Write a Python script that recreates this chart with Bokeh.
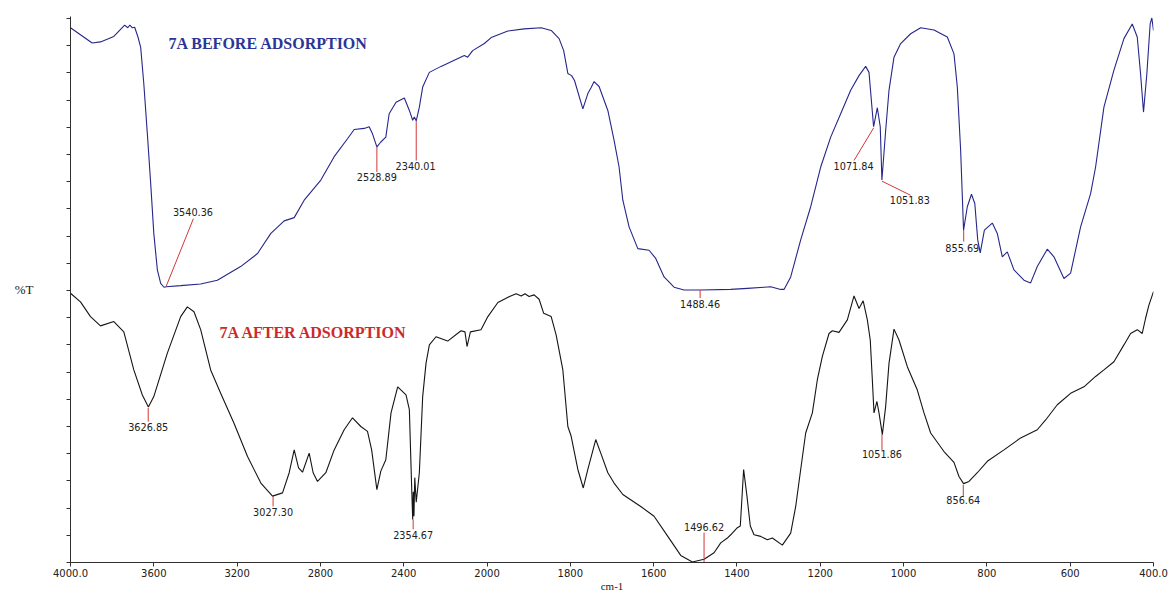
import numpy as np
from bokeh.plotting import figure
from bokeh.models import FixedTicker, CustomJSTickFormatter, Range1d
from bokeh.embed import file_html
from bokeh.resources import INLINE
from bokeh.core.properties import value

# ---------------- data (wavenumber cm-1, %T in chart units) ----------------
before_wn = [4000, 3896, 3856, 3792, 3740, 3725, 3715, 3703, 3692, 3676,
             3663, 3648, 3631, 3615, 3600, 3583, 3567, 3551, 3540, 3471,
             3375, 3295, 3183, 3102, 3038, 2974, 2926, 2878, 2798, 2734,
             2670, 2638, 2590, 2566, 2550, 2529, 2510, 2486, 2470, 2437,
             2397, 2373, 2357, 2349, 2340, 2325, 2309, 2277, 2221, 2109,
             2093, 2069, 2013, 1990, 1950, 1911, 1870, 1846, 1827, 1816,
             1806, 1797, 1790, 1770, 1758, 1750, 1743, 1731, 1710, 1695,
             1683, 1674, 1659, 1638, 1611, 1595, 1575, 1551, 1527, 1487,
             1415, 1375, 1335, 1319, 1295, 1287, 1271, 1247, 1223, 1199,
             1175, 1151, 1127, 1107, 1091, 1083, 1072, 1063, 1056, 1052,
             1043, 1035, 1023, 1007, 983, 959, 927, 895, 879, 871,
             863, 856, 847, 837, 829, 822, 816, 806, 787, 775,
             763, 751, 735, 711, 695, 679, 655, 639, 615, 599,
             575, 551, 539, 519, 495, 471, 451, 439, 431, 424,
             416, 408, 404, 400]
before_t = [98.3, 95.5, 95.7, 96.7, 98.8, 98.3, 98.8, 98.3, 98.4, 96.6,
            94.7, 88.0, 78.8, 69.7, 60.5, 53.8, 51.3, 50.6, 50.7, 50.9,
            51.2, 51.9, 54.4, 56.8, 60.5, 62.8, 63.4, 66.6, 70.3, 74.6,
            77.9, 79.6, 79.8, 80.1, 78.8, 76.4, 77.3, 78.2, 82.5, 84.6,
            85.4, 83.1, 81.3, 81.9, 81.2, 83.7, 87.4, 90.1, 91.2, 93.2,
            92.9, 94.1, 95.4, 96.5, 97.7, 98.1, 98.3, 97.8, 96.3, 94.1,
            89.9, 89.5, 88.6, 83.4, 86.2, 87.3, 88.4, 87.5, 83.1, 77.6,
            72.7, 66.6, 61.7, 57.7, 57.4, 55.9, 52.5, 50.6, 50.1, 50.1,
            50.2, 50.4, 50.6, 50.7, 50.2, 50.2, 52.5, 59.3, 65.4, 72.7,
            78.2, 82.5, 86.8, 89.5, 91.2, 90.1, 80.1, 83.6, 80.1, 70.3,
            79.4, 86.8, 92.9, 95.4, 97.2, 98.3, 97.9, 96.6, 93.5, 87.4,
            75.8, 61.1, 65.4, 67.7, 66.0, 59.3, 56.9, 61.1, 62.4, 60.5,
            56.2, 57.1, 53.8, 51.9, 51.4, 54.4, 57.6, 56.2, 52.2, 53.2,
            61.7, 67.8, 72.7, 83.7, 90.5, 96.3, 99.0, 96.6, 89.8, 82.8,
            89.8, 99.0, 100.1, 97.8]

after_wn = [4000, 3952, 3904, 3856, 3792, 3744, 3696, 3655, 3626, 3600,
            3535, 3471, 3439, 3407, 3375, 3327, 3279, 3215, 3150, 3086,
            3030, 2982, 2950, 2926, 2905, 2886, 2854, 2835, 2814, 2774,
            2734, 2686, 2646, 2606, 2574, 2554, 2529, 2510, 2486, 2461,
            2429, 2389, 2373, 2362, 2357, 2354, 2351, 2347, 2340, 2325,
            2309, 2293, 2277, 2245, 2189, 2125, 2106, 2096, 2080, 2029,
            1998, 1974, 1946, 1930, 1918, 1909, 1899, 1887, 1875, 1864,
            1846, 1834, 1818, 1806, 1798, 1782, 1769, 1758, 1739, 1727,
            1710, 1695, 1674, 1631, 1599, 1566, 1535, 1507, 1479, 1455,
            1439, 1423, 1415, 1399, 1392, 1384, 1376, 1368, 1359, 1343,
            1327, 1315, 1291, 1271, 1259, 1247, 1235, 1219, 1207, 1195,
            1179, 1171, 1155, 1135, 1119, 1107, 1097, 1087, 1080, 1075,
            1071, 1064, 1059, 1051, 1043, 1035, 1023, 1011, 991, 967,
            951, 935, 903, 879, 867, 856, 843, 823, 799, 759,
            719, 679, 659, 631, 599, 567, 539, 519, 495, 471,
            455, 439, 427, 419, 411, 400]
after_t = [49.5, 47.9, 45.2, 43.5, 44.3, 42.4, 35.4, 30.8, 28.6, 30.5,
           38.5, 45.2, 47.0, 46.1, 42.8, 35.4, 31.1, 25.6, 19.5, 14.6,
           12.2, 12.8, 16.5, 20.7, 17.4, 16.6, 20.1, 16.5, 14.9, 16.5,
           20.7, 24.4, 26.6, 25.0, 24.1, 20.7, 13.4, 16.8, 18.9, 27.5,
           32.3, 30.8, 28.1, 14.0, 7.9, 13.0, 8.5, 15.6, 11.1, 16.5,
           30.5, 36.6, 40.0, 41.5, 40.7, 42.6, 42.4, 39.7, 42.4, 42.8,
           45.2, 47.8, 48.9, 49.4, 49.0, 49.4, 48.9, 49.2, 48.4, 45.8,
           45.2, 41.8, 35.4, 25.0, 23.2, 17.1, 13.7, 17.1, 22.6, 20.1,
           16.5, 14.6, 12.5, 10.3, 8.5, 4.8, 1.3, 0.1, 0.6, 1.8,
           3.6, 4.5, 5.1, 6.4, 6.7, 17.1, 12.2, 6.7, 5.1, 4.8,
           4.2, 4.5, 3.2, 5.4, 10.3, 17.1, 23.8, 27.5, 33.6, 37.9,
           42.1, 42.6, 42.3, 44.6, 49.0, 46.7, 48.1, 44.6, 40.9, 33.6,
           27.5, 29.6, 27.5, 23.5, 28.7, 36.6, 42.9, 40.9, 36.0, 31.7,
           27.5, 23.8, 20.4, 18.4, 15.8, 14.5, 14.9, 16.5, 18.6, 20.7,
           22.9, 24.4, 26.2, 29.0, 31.1, 32.3, 34.2, 35.4, 36.9, 40.0,
           42.1, 42.8, 42.1, 44.9, 47.3, 49.8]

# peak annotations: label, leader tip / end, text anchor
before_peaks = ["3540.36", "2528.89", "2340.01", "1488.46", "1071.84", "1051.83", "855.69"]
before_tip_wn = [3540.36, 2528.89, 2340.01, 1488.46, 1071.84, 1051.83, 855.69]
before_tip_t = [50.8, 76.4, 81.2, 50.1, 79.9, 70.1, 61.1]
before_end_wn = [3410, 2528.89, 2340.01, 1488.46, 1119, 983, 855.69]
before_end_t = [63.2, 71.8, 73.9, 48.6, 73.9, 67.5, 59.0]
before_txt_wn = [3412, 2528.89, 2343, 1488.46, 1120, 985, 859]
before_txt_t = [64.5, 70.9, 72.9, 47.5, 72.8, 66.6, 57.9]

after_peaks = ["3626.85", "3027.30", "2354.67", "1496.62", "1051.86", "856.64"]
after_tip_wn = [3626.85, 3027.30, 2354.67, 1479, 1051.86, 856.64]
after_tip_t = [28.4, 12.2, 7.9, 0.0, 23.5, 14.3]
after_end_t = [25.9, 10.3, 6.1, 5.5, 20.7, 12.2]
after_txt_t = [24.9, 9.3, 5.0, 6.6, 19.9, 11.4]

tick_wn = [4000, 3600, 3200, 2800, 2400, 2000, 1800, 1600, 1400, 1200, 1000, 800, 600, 400]
tick_labels = ["4000.0", "3600", "3200", "2800", "2400", "2000", "1800", "1600",
               "1400", "1200", "1000", "800", "600", "400.0"]

titles = ["7A BEFORE ADSORPTION", "7A AFTER ADSORPTION"]
title_wn = [3529, 3284]
title_t = [95.4, 42.2]


# the spectrometer axis is expanded 2x below 2000 cm-1
def xmap(w):
    w = np.asarray(w, dtype=float)
    return np.where(w >= 2000, (4000.0 - w) / 2.0, 1000.0 + (2000.0 - w))


p = figure(width=1168, height=594, x_range=Range1d(0, 2600), y_range=Range1d(0, 100.37),
           output_backend="svg", toolbar_location=None,
           min_border_left=70, min_border_right=15, min_border_top=16, min_border_bottom=31)
p.background_fill_color = "white"
p.border_fill_color = "white"
p.outline_line_color = None
p.xgrid.visible = False
p.ygrid.visible = False

# spectra
p.line(xmap(before_wn), before_t, line_color="#26268C", line_width=1.1)
p.line(xmap(after_wn), after_t, line_color="#151515", line_width=1.1)

# peak markers
red = "#D03838"
p.segment(xmap(before_tip_wn), before_tip_t, xmap(before_end_wn), before_end_t,
          line_color=red, line_width=1)
p.segment(xmap(after_tip_wn), after_tip_t, xmap(after_tip_wn), after_end_t,
          line_color=red, line_width=1)
p.text(xmap(before_txt_wn), before_txt_t, text=before_peaks, text_align="center",
       text_baseline="middle", text_font=value("DejaVu Sans"), text_font_size="9.7px",
       text_color="#202020")
p.text(xmap(after_tip_wn), after_txt_t, text=after_peaks, text_align="center",
       text_baseline="middle", text_font=value("DejaVu Sans"), text_font_size="9.7px",
       text_color="#202020")

# titles
p.text(xmap(title_wn), title_t, text=titles, text_align="left", text_baseline="middle",
       text_font=value("Liberation Serif"), text_font_style="bold", text_font_size="16px",
       text_color=["#2B3596", "#CC2A2A"])

# x axis
xa = p.xaxis[0]
xa.ticker = FixedTicker(ticks=[float(v) for v in xmap(tick_wn)])
xa.major_label_overrides = {float(v): lab for v, lab in zip(xmap(tick_wn), tick_labels)}
xa.minor_tick_line_color = None
xa.major_tick_in = 0
xa.major_tick_out = 4
xa.axis_line_color = "#303030"
xa.major_tick_line_color = "#303030"
xa.major_label_text_font = "DejaVu Sans"
xa.major_label_text_font_size = "10px"
xa.major_label_text_color = "#202020"
xa.major_label_standoff = 2
xa.axis_label = "cm-1"
xa.axis_label_text_font = "Liberation Serif"
xa.axis_label_text_font_style = "normal"
xa.axis_label_text_font_size = "11px"
xa.axis_label_text_color = "#202020"
xa.axis_label_standoff = 0

# y axis
ya = p.yaxis[0]
ya.ticker = FixedTicker(ticks=list(range(0, 101, 5)))
ya.formatter = CustomJSTickFormatter(code="return ''")
ya.minor_tick_line_color = None
ya.major_tick_in = 0
ya.major_tick_out = 4
ya.axis_line_color = "#303030"
ya.major_tick_line_color = "#303030"
ya.axis_label = "%T"
ya.axis_label_orientation = "horizontal"
ya.axis_label_text_font = "Liberation Serif"
ya.axis_label_text_font_style = "normal"
ya.axis_label_text_font_size = "13px"
ya.axis_label_text_color = "#202020"
ya.axis_label_standoff = 33

open("out.html", "w").write(file_html(p, INLINE))
